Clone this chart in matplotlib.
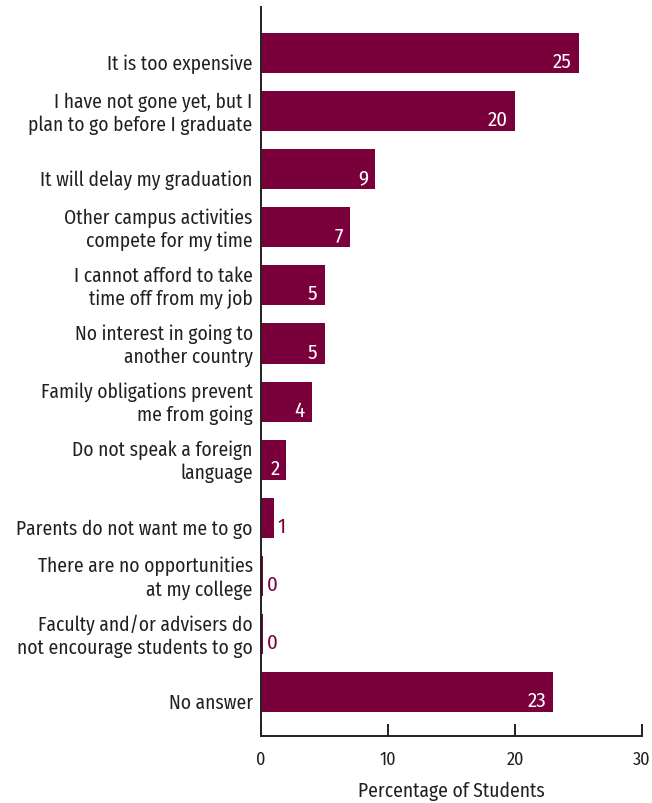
import matplotlib
matplotlib.use("Agg")
import matplotlib.pyplot as plt

categories = [
    "It is too expensive",
    "I have not gone yet, but I\nplan to go before I graduate",
    "It will delay my graduation",
    "Other campus activities\ncompete for my time",
    "I cannot afford to take\ntime off from my job",
    "No interest in going to\nanother country",
    "Family obligations prevent\nme from going",
    "Do not speak a foreign\nlanguage",
    "Parents do not want me to go",
    "There are no opportunities\nat my college",
    "Faculty and/or advisers do\nnot encourage students to go",
    "No answer",
]
values = [25, 20, 9, 7, 5, 5, 4, 2, 1, 0, 0, 23]
xticks = [0, 10, 20, 30]
xlabel = "Percentage of Students"

BAR = "#7a003c"
TEXT = "#231f20"

plt.rcParams["font.family"] = ["Fira Sans Condensed", "DejaVu Sans"]

fig = plt.figure(figsize=(6.52, 8.04), dpi=100)
ax = fig.add_axes([261 / 652, 1 - 737 / 804, (642 - 261) / 652, (737 - 8) / 804])

ypos = list(range(len(categories)))
# zero-valued rows still get a thin sliver at the axis
widths = [v if v > 0 else 0.15 for v in values]
ax.barh(ypos, widths, height=0.69, color=BAR, edgecolor="none", zorder=2)

for y, v, w in zip(ypos, values, widths):
    if v >= 2:
        ax.annotate(str(v), xy=(w, y), xytext=(-5, -6), textcoords="offset points",
                    ha="right", va="center", color="white", fontsize=15)
    else:
        ax.annotate(str(v), xy=(w, y), xytext=(3, -6), textcoords="offset points",
                    ha="left", va="center", color=BAR, fontsize=15)

for y, c in zip(ypos, categories):
    # single-line labels sit lower in their row than wrapped ones
    dy = -1 if "\n" in c else -7.5
    ax.annotate(c, xy=(0, y), xytext=(-6, dy), textcoords="offset points",
                ha="right", va="center", color=TEXT, fontsize=14, linespacing=1.22,
                annotation_clip=False)

ax.set_xlim(0, 30)
ax.set_ylim(11.755, -0.79)
ax.set_yticks([])
ax.set_xticks(xticks)
ax.set_xticklabels([str(t) for t in xticks], fontsize=13, color=TEXT)
ax.tick_params(axis="x", direction="in", length=9, width=1.4, color=TEXT, pad=10)
ax.set_xlabel(xlabel, fontsize=14, color=TEXT, labelpad=9)

for side in ("top", "right"):
    ax.spines[side].set_visible(False)
for side in ("left", "bottom"):
    ax.spines[side].set_linewidth(1.4)
    ax.spines[side].set_color(TEXT)

fig.savefig("out.png", dpi=100)
